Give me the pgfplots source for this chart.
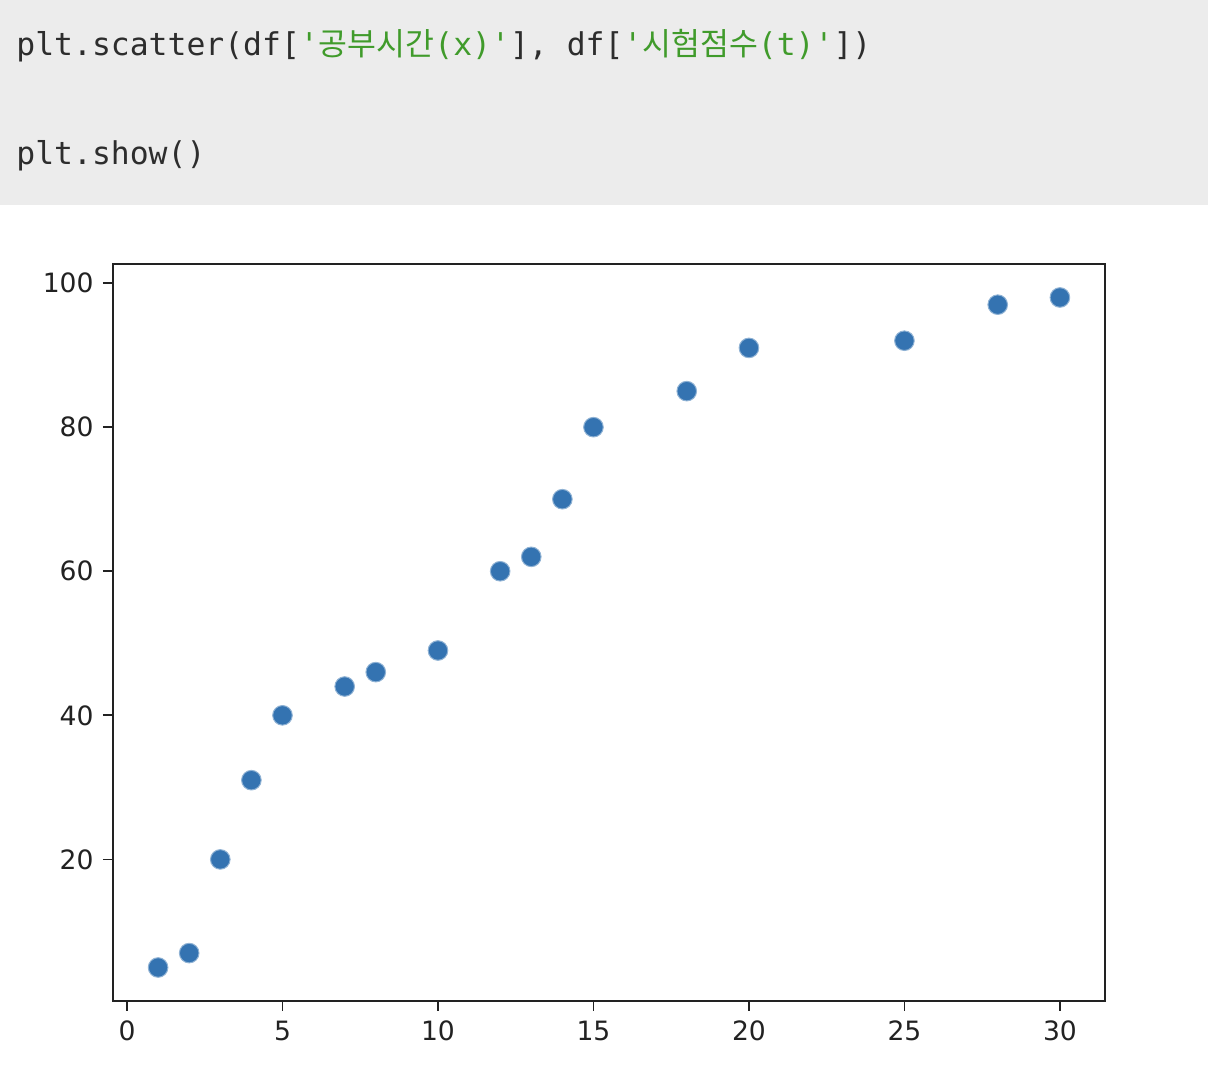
\documentclass[border=0pt]{standalone}
\usepackage{fontspec}
\setmainfont{DejaVu Sans}
\setmonofont{DejaVu Sans Mono}
\newfontfamily\kr{Noto Sans CJK KR}
\usepackage{pgfplots}
\pgfplotsset{compat=1.18}
\definecolor{codebg}{RGB}{236,236,236}
\definecolor{codefg}{RGB}{45,45,45}
\definecolor{strg}{RGB}{64,155,43}
\definecolor{ptc}{RGB}{52,115,177}
\definecolor{axc}{RGB}{34,34,34}
\begin{document}
\begin{tikzpicture}
\fill[white] (0pt,0pt) rectangle (604pt,545pt);
\fill[codebg] (0pt,442.5pt) rectangle (604pt,545pt);
\node[anchor=base west, inner sep=0, text=codefg, font=\ttfamily\fontsize{15.7}{18}\selectfont] at (8pt,517pt)
  {plt.scatter(df[\textcolor{strg}{'{\kr 공부시간}(x)'}], df[\textcolor{strg}{'{\kr 시험점수}(t)'}])};
\node[anchor=base west, inner sep=0, text=codefg, font=\ttfamily\fontsize{15.7}{18}\selectfont] at (8pt,462.5pt)
  {plt.show()};
\begin{axis}[
  at={(56.5pt,44.5pt)}, anchor=south west, scale only axis,
  width=496pt, height=368.5pt,
  xmin=-0.45, xmax=31.45, ymin=0.35, ymax=102.65,
  xtick={0,5,10,15,20,25,30}, ytick={20,40,60,80,100},
  xtick pos=bottom, ytick pos=left,
  tick align=outside, major tick length=5pt,
  tick style={line width=0.9pt, color=axc},
  axis line style={line width=0.9pt, color=axc},
  ticklabel style={font=\fontsize{13.3}{15}\selectfont, text=axc},
  xticklabel style={yshift=-1.5pt},
  yticklabel style={xshift=-1.2pt},
  /pgf/number format/assume math mode=true,
]
\addplot[only marks, mark=*, mark size=4.9pt, mark options={fill=ptc, draw=ptc!55!white, line width=0.5pt}]
 coordinates {(1,5) (2,7) (3,20) (4,31) (5,40) (7,44) (8,46) (10,49) (12,60) (13,62) (14,70) (15,80) (18,85) (20,91) (25,92) (28,97) (30,98)};
\end{axis}
\end{tikzpicture}
\end{document}
